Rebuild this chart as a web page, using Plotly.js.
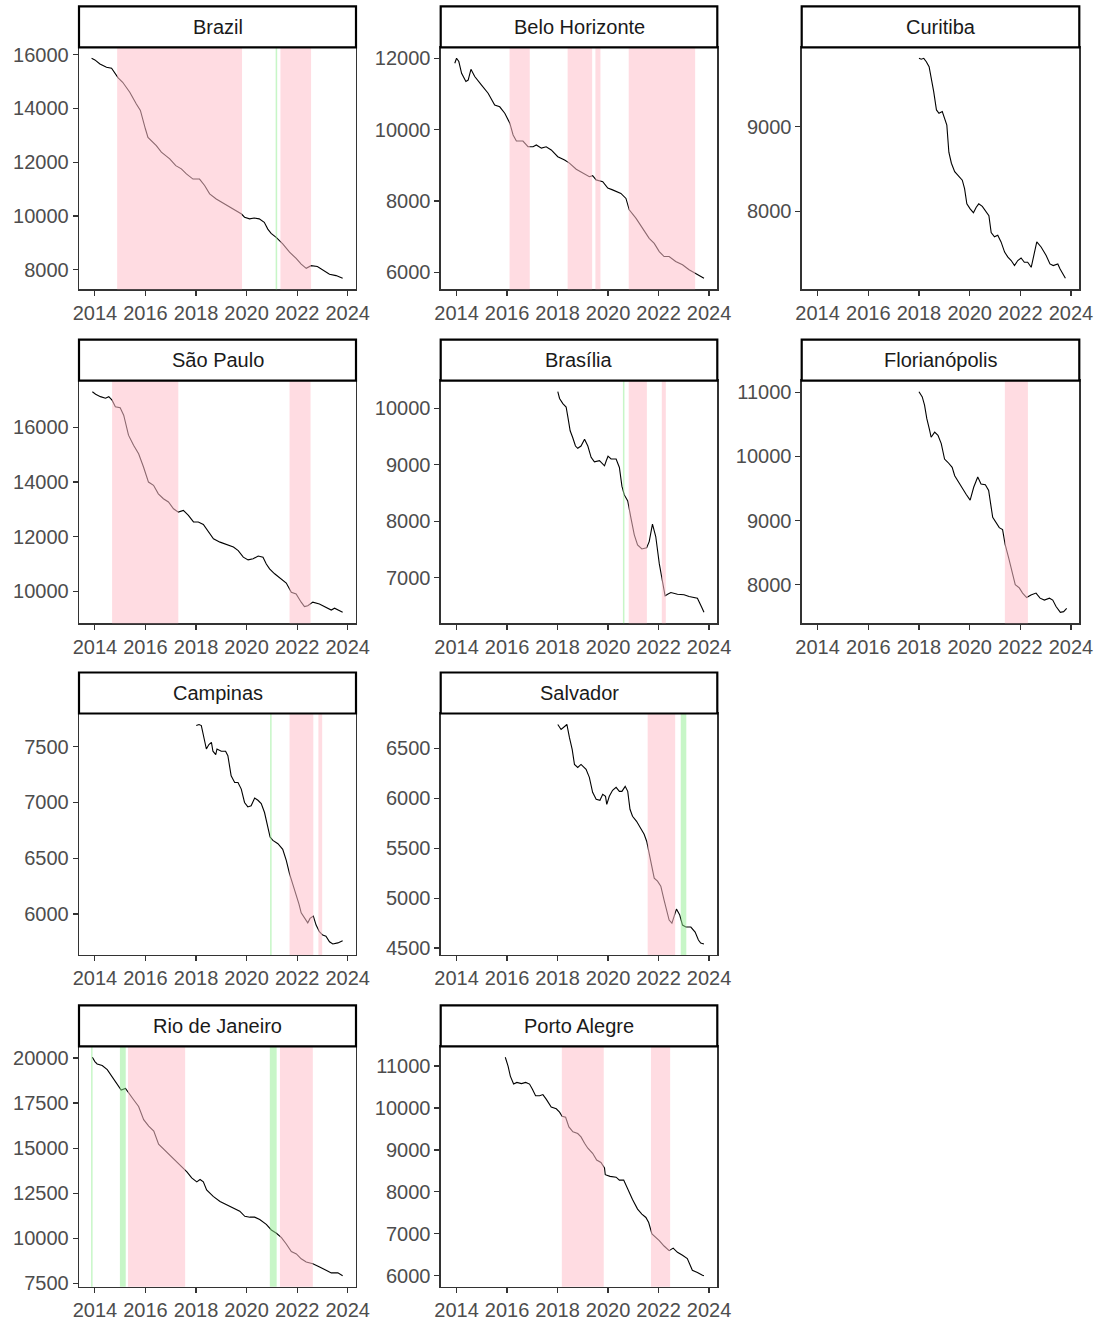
<!DOCTYPE html>
<html><head><meta charset="utf-8">
<script src="https://cdn.plot.ly/plotly-3.0.1.min.js"></script>
<style>html,body{margin:0;padding:0;background:#fff}#chart{width:1102px;height:1321px}</style>
</head><body><div id="chart"></div>
<script>
// ---------- DATA (decimal year, value) ----------
const panelNames = ["Brazil","Belo Horizonte","Curitiba","São Paulo","Brasília","Florianópolis","Campinas","Salvador","Rio de Janeiro","Porto Alegre"];
const xTickVals = [2014,2016,2018,2020,2022,2024];
const xTickText = ["2014","2016","2018","2020","2022","2024"];

const brazil = [[2013.87,15860],[2014.0,15800],[2014.2,15650],[2014.46,15530],[2014.66,15490],[2014.8,15280],[2014.92,15130],[2015.1,14970],[2015.38,14600],[2015.64,14160],[2015.8,13920],[2016.0,13230],[2016.1,12920],[2016.43,12610],[2016.63,12370],[2016.96,12120],[2017.2,11870],[2017.42,11750],[2017.62,11560],[2017.88,11370],[2018.14,11370],[2018.34,11130],[2018.54,10820],[2018.8,10630],[2019.07,10480],[2019.33,10360],[2019.6,10200],[2019.8,10070],[2019.92,9950],[2020.12,9890],[2020.3,9920],[2020.5,9890],[2020.7,9760],[2020.84,9510],[2020.97,9350],[2021.17,9200],[2021.43,8960],[2021.7,8650],[2021.96,8420],[2022.16,8210],[2022.36,8050],[2022.55,8150],[2022.8,8120],[2023.08,7960],[2023.28,7830],[2023.54,7780],[2023.8,7680]];
const beloHorizonte = [[2013.93,11860],[2014.0,12000],[2014.09,11910],[2014.2,11580],[2014.37,11350],[2014.46,11390],[2014.57,11690],[2014.72,11490],[2014.99,11250],[2015.25,11020],[2015.51,10690],[2015.71,10640],[2015.91,10460],[2016.11,10180],[2016.24,9850],[2016.37,9680],[2016.63,9680],[2016.83,9520],[2017.03,9520],[2017.16,9570],[2017.36,9480],[2017.55,9520],[2017.75,9430],[2018.01,9240],[2018.28,9150],[2018.47,9060],[2018.74,8890],[2019.0,8780],[2019.26,8680],[2019.39,8710],[2019.53,8590],[2019.79,8540],[2019.99,8360],[2020.18,8310],[2020.51,8210],[2020.71,8070],[2020.84,7750],[2021.11,7510],[2021.37,7230],[2021.63,6950],[2021.83,6810],[2022.03,6580],[2022.22,6440],[2022.42,6440],[2022.68,6300],[2022.95,6210],[2023.21,6070],[2023.47,5970],[2023.8,5830]];
const curitiba = [[2018.0,9810],[2018.09,9800],[2018.19,9810],[2018.29,9770],[2018.4,9710],[2018.49,9570],[2018.58,9420],[2018.69,9200],[2018.79,9160],[2018.92,9180],[2019.01,9100],[2019.1,9020],[2019.18,8700],[2019.28,8570],[2019.41,8470],[2019.6,8410],[2019.71,8370],[2019.8,8270],[2019.89,8090],[2020.02,8030],[2020.15,7985],[2020.26,8050],[2020.36,8090],[2020.5,8060],[2020.63,8010],[2020.76,7950],[2020.85,7750],[2020.98,7700],[2021.11,7720],[2021.24,7640],[2021.38,7520],[2021.51,7460],[2021.64,7420],[2021.77,7360],[2021.9,7420],[2022.03,7450],[2022.16,7400],[2022.29,7400],[2022.43,7340],[2022.52,7480],[2022.65,7640],[2022.82,7580],[2023.02,7480],[2023.17,7380],[2023.3,7360],[2023.48,7380],[2023.57,7320],[2023.78,7210]];
const saoPaulo = [[2013.9,17310],[2014.03,17220],[2014.22,17130],[2014.42,17070],[2014.55,17130],[2014.68,17000],[2014.81,16760],[2015.0,16720],[2015.14,16450],[2015.33,15720],[2015.53,15350],[2015.73,15040],[2015.92,14560],[2016.12,14000],[2016.32,13880],[2016.51,13570],[2016.71,13390],[2016.91,13270],[2017.11,13020],[2017.3,12900],[2017.5,12960],[2017.7,12780],[2017.9,12540],[2018.09,12540],[2018.29,12450],[2018.49,12170],[2018.69,11920],[2018.95,11800],[2019.15,11740],[2019.34,11680],[2019.48,11620],[2019.67,11490],[2019.87,11250],[2020.06,11150],[2020.26,11190],[2020.46,11290],[2020.65,11250],[2020.78,11000],[2020.91,10820],[2021.11,10640],[2021.37,10450],[2021.57,10300],[2021.77,9960],[2021.96,9900],[2022.16,9600],[2022.29,9440],[2022.42,9470],[2022.62,9600],[2022.88,9530],[2023.15,9410],[2023.35,9310],[2023.48,9380],[2023.61,9310],[2023.8,9230]];
const brasilia = [[2018.01,10290],[2018.08,10170],[2018.21,10080],[2018.34,10020],[2018.41,9840],[2018.5,9600],[2018.6,9480],[2018.71,9330],[2018.8,9290],[2018.93,9330],[2019.07,9450],[2019.2,9330],[2019.33,9130],[2019.46,9050],[2019.66,9070],[2019.86,8980],[2019.93,9070],[2020.0,9150],[2020.12,9100],[2020.32,9100],[2020.45,8950],[2020.55,8620],[2020.64,8470],[2020.78,8360],[2020.91,8050],[2021.04,7760],[2021.17,7580],[2021.34,7510],[2021.53,7530],[2021.63,7640],[2021.76,7950],[2021.89,7730],[2022.03,7250],[2022.16,6950],[2022.26,6680],[2022.36,6710],[2022.49,6740],[2022.75,6710],[2023.01,6700],[2023.21,6670],[2023.41,6650],[2023.54,6640],[2023.71,6480],[2023.8,6390]];
const florianopolis = [[2018.0,11010],[2018.13,10930],[2018.22,10800],[2018.31,10590],[2018.42,10410],[2018.48,10300],[2018.62,10380],[2018.75,10330],[2018.88,10200],[2019.01,9960],[2019.14,9910],[2019.31,9830],[2019.41,9700],[2019.6,9570],[2019.73,9490],[2019.86,9410],[2020.02,9320],[2020.16,9520],[2020.32,9680],[2020.45,9570],[2020.62,9560],[2020.75,9470],[2020.91,9050],[2021.04,8970],[2021.17,8890],[2021.3,8860],[2021.4,8630],[2021.54,8420],[2021.67,8210],[2021.8,8000],[2021.96,7950],[2022.09,7870],[2022.25,7800],[2022.42,7840],[2022.62,7870],[2022.78,7790],[2022.95,7760],[2023.15,7790],[2023.28,7760],[2023.41,7660],[2023.58,7570],[2023.71,7580],[2023.83,7630]];
const campinas = [[2018.01,7690],[2018.12,7700],[2018.21,7690],[2018.3,7580],[2018.41,7480],[2018.51,7520],[2018.61,7540],[2018.67,7460],[2018.78,7430],[2018.83,7480],[2019.0,7460],[2019.17,7460],[2019.26,7420],[2019.39,7240],[2019.53,7180],[2019.66,7180],[2019.79,7120],[2019.92,7000],[2020.05,6960],[2020.18,6970],[2020.32,7040],[2020.45,7020],[2020.58,6990],[2020.71,6910],[2020.84,6760],[2020.93,6690],[2021.04,6660],[2021.24,6630],[2021.43,6580],[2021.57,6480],[2021.7,6360],[2021.83,6270],[2021.96,6180],[2022.07,6090],[2022.16,6010],[2022.29,5970],[2022.42,5920],[2022.51,5960],[2022.64,5980],[2022.75,5900],[2022.88,5840],[2023.01,5810],[2023.14,5800],[2023.28,5750],[2023.41,5730],[2023.61,5740],[2023.8,5760]];
const salvador = [[2018.01,6740],[2018.14,6690],[2018.28,6720],[2018.37,6740],[2018.47,6610],[2018.58,6490],[2018.67,6340],[2018.8,6310],[2018.93,6340],[2019.13,6290],[2019.26,6210],[2019.39,6060],[2019.53,5990],[2019.68,5980],[2019.79,6040],[2019.9,6020],[2019.95,5940],[2020.05,6020],[2020.18,6080],[2020.32,6110],[2020.45,6070],[2020.55,6070],[2020.68,6120],[2020.78,6070],[2020.87,5890],[2020.97,5820],[2021.13,5770],[2021.3,5700],[2021.43,5640],[2021.53,5570],[2021.63,5440],[2021.74,5320],[2021.83,5200],[2021.96,5170],[2022.09,5120],[2022.22,4980],[2022.32,4870],[2022.42,4780],[2022.53,4750],[2022.62,4830],[2022.71,4890],[2022.84,4830],[2022.95,4730],[2023.08,4710],[2023.28,4710],[2023.45,4660],[2023.58,4580],[2023.67,4550],[2023.8,4540]];
const rioDeJaneiro = [[2013.9,20040],[2014.0,19800],[2014.09,19670],[2014.29,19580],[2014.49,19350],[2014.68,18950],[2014.88,18490],[2015.04,18220],[2015.21,18310],[2015.34,18040],[2015.54,17670],[2015.73,17310],[2015.93,16580],[2016.13,16220],[2016.33,15950],[2016.52,15220],[2016.72,14950],[2016.98,14590],[2017.24,14220],[2017.44,13950],[2017.64,13680],[2017.83,13350],[2018.03,13130],[2018.16,13260],[2018.29,13130],[2018.42,12680],[2018.68,12320],[2018.95,12040],[2019.21,11860],[2019.47,11680],[2019.73,11500],[2019.93,11220],[2020.13,11170],[2020.32,11170],[2020.52,11040],[2020.78,10770],[2020.98,10460],[2021.18,10280],[2021.38,10040],[2021.57,9680],[2021.77,9260],[2021.97,9130],[2022.16,8860],[2022.36,8680],[2022.62,8590],[2022.89,8410],[2023.15,8230],[2023.35,8080],[2023.61,8080],[2023.8,7920]];
const portoAlegre = [[2015.93,11210],[2016.04,11000],[2016.13,10760],[2016.26,10570],[2016.39,10610],[2016.57,10580],[2016.74,10610],[2016.89,10570],[2017.0,10450],[2017.13,10290],[2017.29,10290],[2017.42,10320],[2017.55,10210],[2017.75,10020],[2017.95,9980],[2018.08,9900],[2018.18,9800],[2018.32,9780],[2018.45,9550],[2018.61,9430],[2018.8,9390],[2018.93,9310],[2019.07,9160],[2019.2,9040],[2019.39,8920],[2019.55,8760],[2019.72,8700],[2019.86,8570],[2019.89,8410],[2020.08,8370],[2020.32,8350],[2020.45,8280],[2020.62,8280],[2020.78,8060],[2020.97,7820],[2021.17,7590],[2021.34,7470],[2021.5,7390],[2021.61,7270],[2021.74,7000],[2021.89,6920],[2022.03,6840],[2022.22,6710],[2022.42,6600],[2022.58,6660],[2022.75,6560],[2022.95,6490],[2023.14,6410],[2023.34,6130],[2023.54,6080],[2023.74,6010],[2023.8,6000]];

// shaded periods [start, end]
const brazilPink = [[2014.88,2019.82],[2021.34,2022.55]];
const brazilGreen = [[2021.15,2021.21]];
const beloHorizontePink = [[2016.1,2016.9],[2018.4,2019.37],[2019.5,2019.7],[2020.82,2023.45]];
const beloHorizonteGreen = [];
const curitibaPink = [];
const curitibaGreen = [];
const saoPauloPink = [[2014.68,2017.3],[2021.7,2022.53]];
const saoPauloGreen = [];
const brasiliaPink = [[2020.82,2021.54],[2022.13,2022.29]];
const brasiliaGreen = [[2020.59,2020.65]];
const florianopolisPink = [[2021.39,2022.3]];
const florianopolisGreen = [];
const campinasPink = [[2021.7,2022.64],[2022.84,2022.99]];
const campinasGreen = [[2020.93,2020.99]];
const salvadorPink = [[2021.57,2022.66]];
const salvadorGreen = [[2022.88,2023.1]];
const rioDeJaneiroPink = [[2015.31,2017.57],[2021.32,2022.62]];
const rioDeJaneiroGreen = [[2013.85,2013.91],[2014.99,2015.22],[2020.92,2021.19]];
const portoAlegrePink = [[2018.17,2019.83],[2021.7,2022.46]];
const portoAlegreGreen = [];

// y tick values per panel
const brazilTicks = [8000,10000,12000,14000,16000];
const beloHorizonteTicks = [6000,8000,10000,12000];
const curitibaTicks = [8000,9000];
const saoPauloTicks = [10000,12000,14000,16000];
const brasiliaTicks = [7000,8000,9000,10000];
const florianopolisTicks = [8000,9000,10000,11000];
const campinasTicks = [6000,6500,7000,7500];
const salvadorTicks = [4500,5000,5500,6000,6500];
const rioDeJaneiroTicks = [7500,10000,12500,15000,17500,20000];
const portoAlegreTicks = [6000,7000,8000,9000,10000,11000];

const series = [brazil,beloHorizonte,curitiba,saoPaulo,brasilia,florianopolis,campinas,salvador,rioDeJaneiro,portoAlegre];
const pinks = [brazilPink,beloHorizontePink,curitibaPink,saoPauloPink,brasiliaPink,florianopolisPink,campinasPink,salvadorPink,rioDeJaneiroPink,portoAlegrePink];
const greens = [brazilGreen,beloHorizonteGreen,curitibaGreen,saoPauloGreen,brasiliaGreen,florianopolisGreen,campinasGreen,salvadorGreen,rioDeJaneiroGreen,portoAlegreGreen];
const yTicks = [brazilTicks,beloHorizonteTicks,curitibaTicks,saoPauloTicks,brasiliaTicks,florianopolisTicks,campinasTicks,salvadorTicks,rioDeJaneiroTicks,portoAlegreTicks];

// ---------- LAYOUT ----------
const W = 1102, H = 1321;
const colPx = [[79,356],[440.7,717.3],[801.7,1079.3]];
const rowPx = [[47.3,289.3],[380.7,623.3],[713.5,955],[1046.3,1286.7]];
const stripPx = 41;
const grid = [[0,0],[0,1],[0,2],[1,0],[1,1],[1,2],[2,0],[2,1],[3,0],[3,1]];

// shared x range with 5% expansion
let allX = [];
series.forEach(s => s.forEach(p => allX.push(p[0])));
const xmin = Math.min(...allX), xmax = Math.max(...allX);
const xpad = (xmax - xmin) * 0.05;
const xRange = [xmin - xpad, xmax + xpad];

const font = "Liberation Sans, Arial, sans-serif";
const traces = [];
const layout = {
  width: W, height: H,
  margin: {l:0, r:0, t:0, b:0},
  paper_bgcolor: "#ffffff", plot_bgcolor: "#ffffff",
  showlegend: false,
  font: {family: font, size: 20, color: "#4D4D4D"},
  shapes: [], annotations: []
};

series.forEach((s, i) => {
  const n = i + 1;
  const sfx = n === 1 ? "" : String(n);
  const [r, c] = grid[i];
  const xd = [colPx[c][0] / W, colPx[c][1] / W];
  const yd = [1 - rowPx[r][1] / H, 1 - rowPx[r][0] / H];
  const ys = s.map(p => p[1]);
  const ymin = Math.min(...ys), ymax = Math.max(...ys);
  const ypad = (ymax - ymin) * 0.05;

  traces.push({
    x: s.map(p => p[0]), y: ys, type: "scatter", mode: "lines",
    line: {color: "#000000", width: 1.1},
    xaxis: "x" + sfx, yaxis: "y" + sfx, hoverinfo: "skip"
  });

  const axCommon = {
    showgrid: false, zeroline: false, showline: true, mirror: true,
    linecolor: "#333333", linewidth: 1.3,
    ticks: "outside", ticklen: 5, tickwidth: 1.2, tickcolor: "#333333",
    tickfont: {family: font, size: 20, color: "#4D4D4D"}
  };
  layout["xaxis" + sfx] = Object.assign({}, axCommon, {
    domain: xd, anchor: "y" + sfx, range: xRange,
    tickmode: "array", tickvals: xTickVals, ticktext: xTickText
  });
  layout["yaxis" + sfx] = Object.assign({}, axCommon, {
    domain: yd, anchor: "x" + sfx, range: [ymin - ypad, ymax + ypad],
    tickmode: "array", tickvals: yTicks[i], ticktext: yTicks[i].map(String)
  });

  pinks[i].forEach(b => layout.shapes.push({
    type: "rect", xref: "x" + sfx, yref: "y" + sfx + " domain",
    x0: b[0], x1: b[1], y0: 0, y1: 1,
    fillcolor: "rgba(255,192,203,0.55)", line: {width: 0}, layer: "above"
  }));
  greens[i].forEach(b => layout.shapes.push({
    type: "rect", xref: "x" + sfx, yref: "y" + sfx + " domain",
    x0: b[0], x1: b[1], y0: 0, y1: 1,
    fillcolor: "rgba(144,238,144,0.5)", line: {width: 0}, layer: "above"
  }));

  // facet strip
  layout.shapes.push({
    type: "rect", xref: "paper", yref: "paper",
    x0: xd[0], x1: xd[1], y0: yd[1], y1: yd[1] + stripPx / H,
    fillcolor: "#ffffff", line: {color: "#000000", width: 2.2}, layer: "above"
  });
  layout.annotations.push({
    xref: "paper", yref: "paper", x: (xd[0] + xd[1]) / 2, y: yd[1] + stripPx / 2 / H,
    xanchor: "center", yanchor: "middle", showarrow: false,
    text: panelNames[i], font: {family: font, size: 20, color: "#1A1A1A"}
  });
});

Plotly.newPlot("chart", traces, layout, {displayModeBar: false, staticPlot: true});
</script>
</body></html>
